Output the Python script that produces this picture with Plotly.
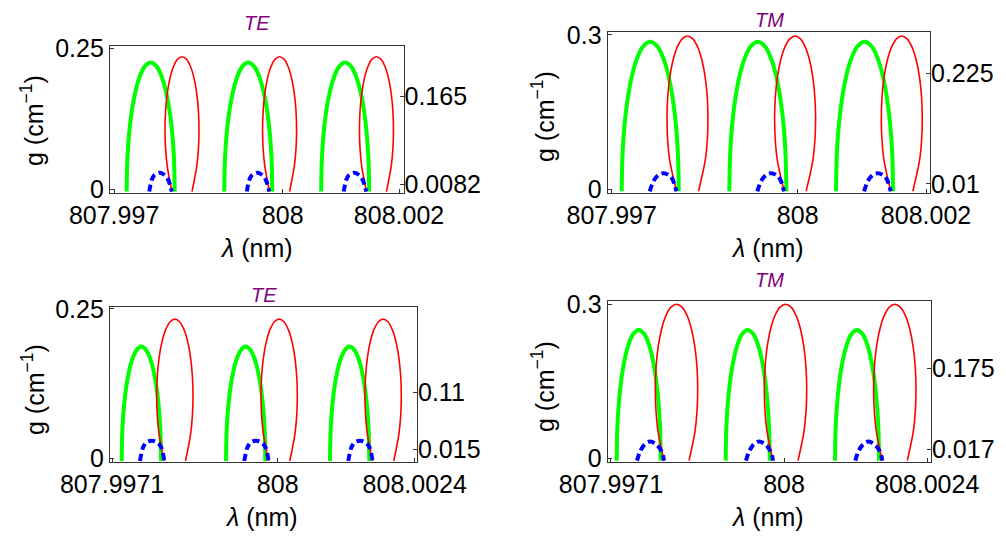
import plotly.graph_objects as go

# ---------------- data (wavelength offsets in pm relative to each period start) ----------------
# Panel 1 (top-left, TE)
p1_starts = [-2.776, -1.040, 0.684]          # pm relative to 808 nm
p1_green_dx = [0, 0.0145, 0.057, 0.125, 0.2135, 0.316, 0.427, 0.538, 0.6405, 0.729, 0.797, 0.8395, 0.854]
p1_green_g = [-0.0045, 0.0581, 0.1123, 0.1587, 0.1944, 0.2169, 0.2245, 0.2169, 0.1944, 0.1587, 0.1123, 0.0581, -0.0045]
p1_red_dx = [0.806, 0.722, 0.692, 0.6815, 0.692, 0.722, 0.770, 0.8328, 0.9057, 0.984, 1.0623, 1.1353, 1.1979,
             1.246, 1.2762, 1.2865, 1.2762, 1.246, 1.1619]
p1_red_g = [-0.0045, 0.04, 0.0713, 0.105, 0.1387, 0.17, 0.1969, 0.2176, 0.2306, 0.235, 0.2306, 0.2176, 0.1969,
            0.17, 0.1387, 0.105, 0.0713, 0.04, -0.0045]
p1_blue_dx = [0.402, 0.445, 0.495, 0.593, 0.673, 0.740, 0.801]
p1_blue_g = [-0.0045, 0.016, 0.025, 0.029, 0.025, 0.016, -0.0045]

# Panel 2 (top-right, TM)
p2_starts = [-2.839, -1.103, 0.618]
p2_green_dx = [0, 0.0157, 0.0616, 0.1348, 0.23, 0.3409, 0.46, 0.5791, 0.69, 0.7852, 0.8584, 0.9043, 0.92]
p2_green_g = [-0.0045, 0.0743, 0.1435, 0.2029, 0.2485, 0.2772, 0.287, 0.2772, 0.2485, 0.2029, 0.1435, 0.0743, -0.0045]
p2_red_dx = [0.8835, 0.7747, 0.7416, 0.7304, 0.7416, 0.7747, 0.8273, 0.8957, 0.9754, 1.061, 1.1466, 1.2263, 1.2947,
             1.3473, 1.3803, 1.3916, 1.3803, 1.3473, 1.2385]
p2_red_g = [-0.0045, 0.0556, 0.0945, 0.1364, 0.1783, 0.2172, 0.2507, 0.2763, 0.2925, 0.298, 0.2925, 0.2763, 0.2507,
            0.2172, 0.1783, 0.1364, 0.0945, 0.0556, -0.0045]
p2_blue_dx = [0.452, 0.516, 0.581, 0.666, 0.758, 0.823, 0.882]
p2_blue_g = [-0.0045, 0.016, 0.026, 0.0305, 0.027, 0.018, -0.0045]

# Panel 3 (bottom-left, TE)
p3_starts = [-2.732, -0.905, 0.916]
p3_green_dx = [0, 0.0117, 0.0461, 0.1008, 0.172, 0.2549, 0.344, 0.4331, 0.516, 0.5872, 0.6419, 0.6763, 0.688]
p3_green_g = [-0.0045, 0.0484, 0.0935, 0.1322, 0.1619, 0.1806, 0.187, 0.1806, 0.1619, 0.1322, 0.0935, 0.0484, -0.0045]
p3_red_dx = [0.7451, 0.6555, 0.6237, 0.6129, 0.6237, 0.6555, 0.706, 0.7719, 0.8485, 0.9308, 1.0131, 1.0898, 1.1556,
             1.2061, 1.2379, 1.2487, 1.2379, 1.2061, 1.1165]
p3_red_g = [-0.0045, 0.0401, 0.0711, 0.1044, 0.1377, 0.1687, 0.1953, 0.2158, 0.2286, 0.233, 0.2286, 0.2158, 0.1953,
            0.1687, 0.1377, 0.1044, 0.0711, 0.0401, -0.0045]
p3_blue_dx = [0.320, 0.378, 0.438, 0.525, 0.613, 0.688, 0.746]
p3_blue_g = [-0.0045, 0.019, 0.027, 0.0295, 0.027, 0.019, -0.0045]

# Panel 4 (bottom-right, TM)
p4_starts = [-2.804, -0.977, 0.855]
p4_green_dx = [0, 0.0125, 0.0494, 0.108, 0.1844, 0.2733, 0.3688, 0.4643, 0.5532, 0.6296, 0.6882, 0.7251, 0.7376]
p4_green_g = [-0.0045, 0.0648, 0.125, 0.1768, 0.2165, 0.2415, 0.25, 0.2415, 0.2165, 0.1768, 0.125, 0.0648, -0.0045]
p4_red_dx = [0.7928, 0.6947, 0.6592, 0.6471, 0.6592, 0.6947, 0.7512, 0.8248, 0.9104, 1.0024, 1.0944, 1.1801, 1.2536,
             1.3101, 1.3456, 1.3577, 1.3456, 1.3101, 1.212]
p4_red_g = [-0.0045, 0.051, 0.091, 0.134, 0.177, 0.217, 0.2514, 0.2778, 0.2944, 0.30, 0.2944, 0.2778, 0.2514,
            0.217, 0.177, 0.134, 0.091, 0.051, -0.0045]
p4_blue_dx = [0.340, 0.391, 0.461, 0.558, 0.662, 0.754, 0.793]
p4_blue_g = [-0.0045, 0.013, 0.026, 0.0325, 0.027, 0.013, -0.0045]

titles = ["TE", "TM", "TE", "TM"]
x_tickvals = [[807.997, 808.0, 808.00207], [807.997, 808.0, 808.00207],
              [807.9971, 808.0, 808.0024], [807.9971, 808.0, 808.0024]]
x_ticktext = [["807.997", "808", "808.002"], ["807.997", "808", "808.002"],
              ["807.9971", "808", "808.0024"], ["807.9971", "808", "808.0024"]]
y_left_ticks = [[0, 0.25], [0, 0.3], [0, 0.25], [0, 0.3]]
y_left_text = [["0", "0.25"], ["0", "0.3"], ["0", "0.25"], ["0", "0.3"]]
y_right_ticks = [[0.0082, 0.165], [0.01, 0.225], [0.015, 0.11], [0.017, 0.175]]
y_right_text = [["0.0082", "0.165"], ["0.01", "0.225"], ["0.015", "0.11"], ["0.017", "0.175"]]

# ---------------- layout geometry (page pixels; the page body adds an 8px margin) ----------------
OFF = 8
W, H = 1006 - OFF, 539 - OFF
x_ranges = [[807.996927, 808.002149], [807.996935, 808.002134],
            [807.997063, 808.00244], [807.997045, 808.002464]]
y_ranges = [[-0.0071, 0.254], [-0.0072, 0.3064], [-0.0067, 0.2528], [-0.0078, 0.307]]
px_boxes = [(110, 403.5, 46, 193), (607.7, 930, 31.7, 192.7),
            (110, 417, 307.3, 462.3), (607.7, 931, 300.7, 462.3)]
title_px = [(257, 23), (769, 19.5), (264, 295), (769, 280)]
ytitle_px = [(32, 121), (543, 117), (33, 390), (543, 387)]
xtitle_px = [(256, 248), (767, 248), (262, 517), (767, 517)]

panels = [
    (p1_starts, p1_green_dx, p1_green_g, p1_red_dx, p1_red_g, p1_blue_dx, p1_blue_g),
    (p2_starts, p2_green_dx, p2_green_g, p2_red_dx, p2_red_g, p2_blue_dx, p2_blue_g),
    (p3_starts, p3_green_dx, p3_green_g, p3_red_dx, p3_red_g, p3_blue_dx, p3_blue_g),
    (p4_starts, p4_green_dx, p4_green_g, p4_red_dx, p4_red_g, p4_blue_dx, p4_blue_g),
]


def px_x(v):
    return (v - OFF) / W


def px_y(v):
    return 1 - (v - OFF) / H


def build(starts, dx, g):
    xs, ys = [], []
    for s in starts:
        xs += [808 + (s + d) * 1e-3 for d in dx] + [None]
        ys += list(g) + [None]
    return xs, ys


FONT = "Liberation Sans, Arial, sans-serif"
FS = 25
fig = go.Figure()
layout = dict(width=W, height=H, margin=dict(l=0, r=0, t=0, b=0, autoexpand=False),
              paper_bgcolor="white", plot_bgcolor="white", showlegend=False,
              font=dict(family=FONT, size=FS, color="black"), annotations=[])

for i, (starts, gdx, gg, rdx, rg, bdx, bg) in enumerate(panels):
    k = i + 1
    xa = "x" if k == 1 else f"x{k}"
    ya = "y" if k == 1 else f"y{k}"
    ya_r = f"y{k + 4}"
    x0, x1, y0, y1 = px_boxes[i]
    dom_x = [px_x(x0), px_x(x1)]
    dom_y = [px_y(y1), px_y(y0)]

    gx, gy = build(starts, gdx, gg)
    rx, ry = build(starts, rdx, rg)
    bx, by = build(starts, bdx, bg)
    fig.add_trace(go.Scatter(x=gx, y=gy, mode="lines", line=dict(color="#00ff00", width=4, shape="spline"),
                             xaxis=xa, yaxis=ya, hoverinfo="skip"))
    fig.add_trace(go.Scatter(x=rx, y=ry, mode="lines", line=dict(color="#ff0000", width=1.6, shape="spline"),
                             xaxis=xa, yaxis=ya, hoverinfo="skip"))
    fig.add_trace(go.Scatter(x=bx, y=by, mode="lines",
                             line=dict(color="#0000ff", width=4, shape="spline", dash="7px,4px"),
                             xaxis=xa, yaxis=ya_r, hoverinfo="skip"))

    xkey = "xaxis" if k == 1 else f"xaxis{k}"
    ykey = "yaxis" if k == 1 else f"yaxis{k}"
    layout[xkey] = dict(domain=dom_x, anchor=ya, range=x_ranges[i], showgrid=False, zeroline=False,
                        showline=True, linecolor="#333", linewidth=1.2, mirror=True, automargin=False,
                        ticks="inside", ticklen=4, tickcolor="#333",
                        tickmode="array", tickvals=x_tickvals[i], ticktext=x_ticktext[i],
                        tickfont=dict(size=FS))
    layout[ykey] = dict(domain=dom_y, anchor=xa, range=y_ranges[i], showgrid=False, zeroline=False,
                        showline=True, linecolor="#333", linewidth=1.2, mirror=True, automargin=False,
                        ticks="inside", ticklen=4, tickcolor="#333",
                        tickmode="array", tickvals=y_left_ticks[i], ticktext=y_left_text[i],
                        tickfont=dict(size=FS))
    layout[f"yaxis{k + 4}"] = dict(overlaying=ya, anchor=xa, side="right", range=y_ranges[i],
                                   showgrid=False, zeroline=False, showline=False, automargin=False,
                                   ticks="inside", ticklen=4, tickcolor="#333",
                                   tickmode="array", tickvals=y_right_ticks[i], ticktext=y_right_text[i],
                                   tickfont=dict(size=FS))
    tx, ty = title_px[i]
    layout["annotations"].append(dict(text=f"<i>{titles[i]}</i>", x=px_x(tx), y=px_y(ty),
                                      xref="paper", yref="paper", showarrow=False,
                                      font=dict(size=20, color="#800080"),
                                      xanchor="center", yanchor="middle", borderpad=0))
    yx, yy = ytitle_px[i]
    layout["annotations"].append(dict(text="g (cm<sup>−1</sup>)", x=px_x(yx), y=px_y(yy),
                                      xref="paper", yref="paper", showarrow=False, textangle=-90,
                                      font=dict(size=FS), xanchor="center", yanchor="middle"))
    xx, xy = xtitle_px[i]
    layout["annotations"].append(dict(text="<i>λ</i> (nm)", x=px_x(xx), y=px_y(xy),
                                      xref="paper", yref="paper", showarrow=False,
                                      font=dict(size=FS), xanchor="center", yanchor="middle"))

fig.update_layout(**layout)
fig.write_html("out.html")
